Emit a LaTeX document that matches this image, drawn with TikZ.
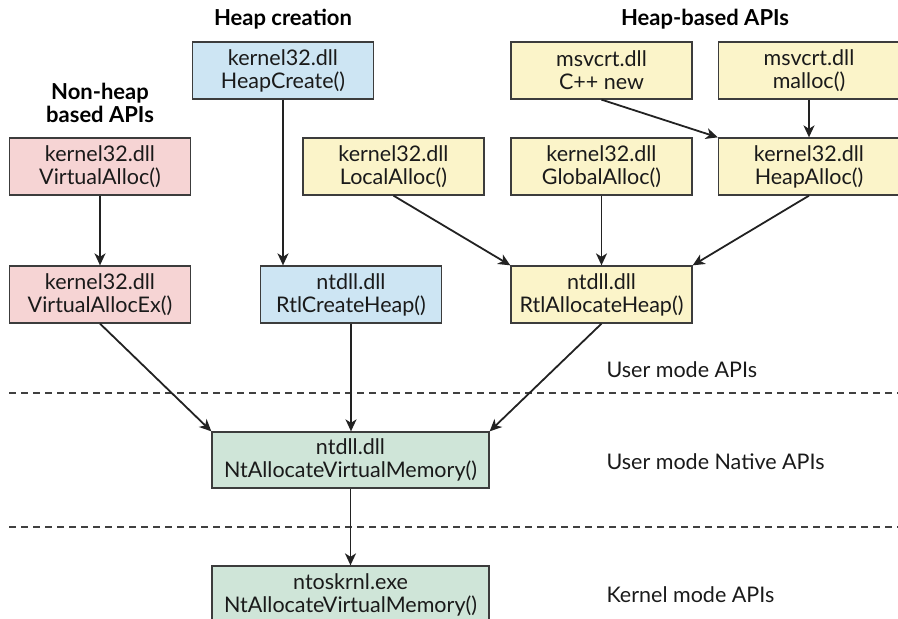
\documentclass[tikz,border=0pt]{standalone}
\usepackage{fontspec}
\setmainfont{Lato}
\usetikzlibrary{arrows.meta}
\definecolor{pinkf}{HTML}{F6D4D4}
\definecolor{bluef}{HTML}{CDE5F3}
\definecolor{yellowf}{HTML}{FBF4C9}
\definecolor{greenf}{HTML}{CFE5D8}
\definecolor{boxline}{HTML}{3C3C3C}
\definecolor{arrowc}{HTML}{222222}
\definecolor{txt}{HTML}{1A1A1A}
\begin{document}
\begin{tikzpicture}[x=1pt,y=-1pt,
  box/.style={draw=boxline, line width=1.3pt, minimum width=181pt, minimum height=57pt, inner sep=0pt, align=center, font=\fontsize{21.5}{23}\selectfont, text=txt},
  pinkbox/.style={box, fill=pinkf},
  bluebox/.style={box, fill=bluef},
  yellowbox/.style={box, fill=yellowf},
  greenbox/.style={box, fill=greenf, minimum width=277pt},
  title/.style={font=\fontsize{22}{23}\selectfont\bfseries, align=center, text=black},
  lbl/.style={font=\fontsize{21.5}{23}\selectfont, anchor=west, text=txt},
  arr/.style={draw=arrowc, line width=1.8pt, -{Stealth[length=12pt,width=11pt,inset=3.5pt]}},
  sep/.style={draw=black!75, line width=1.1pt, dash pattern=on 7pt off 5pt}]
\useasboundingbox (0,0) rectangle (898,619);
\clip (0,0) rectangle (898,619);

% titles
\node[title] (t1) at (283,19) {Heap creation};
\node[title] (t2) at (705,19) {Heap-based APIs};
\node[title] (t3) at (100,103) {Non-heap\\based APIs};

% boxes
\node[bluebox] (hc) at (283,70.5) {kernel32.dll\\HeapCreate()};
\node[pinkbox] (va) at (100,166.5) {kernel32.dll\\VirtualAlloc()};
\node[pinkbox] (vaex) at (100,294.5) {kernel32.dll\\VirtualAllocEx()};
\node[bluebox] (rch) at (351,294.5) {ntdll.dll\\RtlCreateHeap()};
\node[yellowbox] (la) at (393.5,166.5) {kernel32.dll\\LocalAlloc()};
\node[yellowbox] (cpp) at (601.5,70.5) {msvcrt.dll\\C++ new};
\node[yellowbox] (mal) at (809,70.5) {msvcrt.dll\\malloc()};
\node[yellowbox] (ga) at (601.5,166.5) {kernel32.dll\\GlobalAlloc()};
\node[yellowbox] (ha) at (809,166.5) {kernel32.dll\\HeapAlloc()};
\node[yellowbox] (rah) at (601.5,294.5) {ntdll.dll\\RtlAllocateHeap()};
\node[greenbox, minimum height=56pt] (nt) at (350.5,460) {ntdll.dll\\NtAllocateVirtualMemory()};
\node[greenbox] (nk) at (350.5,594.5) {ntoskrnl.exe\\NtAllocateVirtualMemory()};

% separators
\coordinate (d1a) at (9,393);
\coordinate (d1b) at (898,393);
\coordinate (d2a) at (9,527);
\coordinate (d2b) at (898,527);
\draw[sep] (d1a) -- (d1b);
\draw[sep] (d2a) -- (d2b);

% layer labels
\node[lbl] (l1) at (603,370) {User mode APIs};
\node[lbl] (l2) at (603,462) {User mode Native APIs};
\node[lbl] (l3) at (603,595) {Kernel mode APIs};

% arrows
\draw[arr] (va.south) -- (vaex.north);
\draw[arr] (hc.south) -- (hc.south |- rch.north);
\draw[arr] (vaex.south) -- (nt.north west);
\draw[arr] (rch.south) -- (rch.south |- nt.north);
\draw[arr] (rah.south) -- (nt.north east);
\draw[arr] (nt.south) -- (nk.north);
\draw[arr] (la.south) -- (rah.north west);
\draw[arr] (ga.south) -- (rah.north);
\draw[arr] (ha.south) -- (rah.north east);
\draw[arr] (cpp.south) -- (ha.north west);
\draw[arr] (mal.south) -- (ha.north);
\end{tikzpicture}
\end{document}
